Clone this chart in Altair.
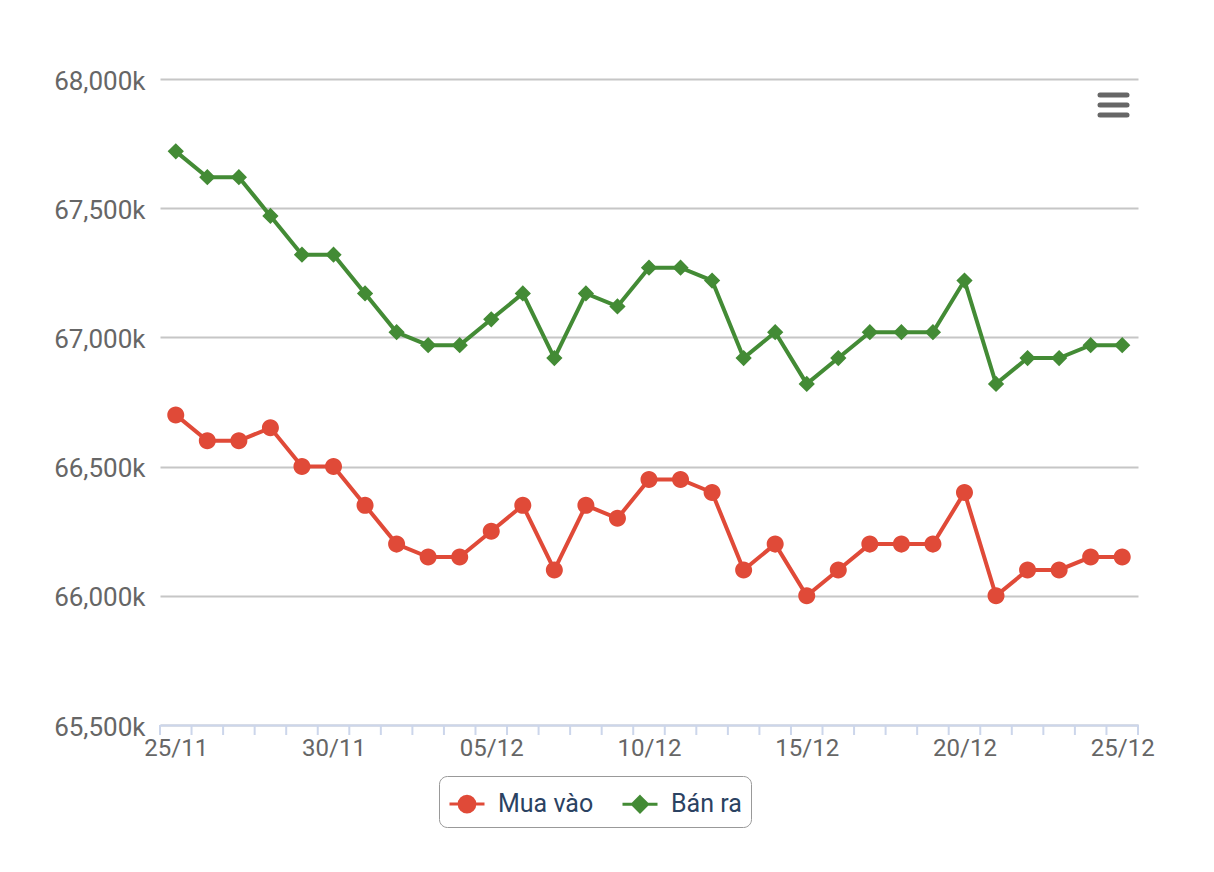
import altair as alt
import pandas as pd

dates = ["25/11", "26/11", "27/11", "28/11", "29/11", "30/11", "01/12", "02/12",
         "03/12", "04/12", "05/12", "06/12", "07/12", "08/12", "09/12", "10/12",
         "11/12", "12/12", "13/12", "14/12", "15/12", "16/12", "17/12", "18/12",
         "19/12", "20/12", "21/12", "22/12", "23/12", "24/12", "25/12"]

mua_vao = [66700, 66600, 66600, 66650, 66500, 66500, 66350, 66200, 66150, 66150,
           66250, 66350, 66100, 66350, 66300, 66450, 66450, 66400, 66100, 66200,
           66000, 66100, 66200, 66200, 66200, 66400, 66000, 66100, 66100, 66150,
           66150]

ban_ra = [67720, 67620, 67620, 67470, 67320, 67320, 67170, 67020, 66970, 66970,
          67070, 67170, 66920, 67170, 67120, 67270, 67270, 67220, 66920, 67020,
          66820, 66920, 67020, 67020, 67020, 67220, 66820, 66920, 66920, 66970,
          66970]

series_names = ["Mua vào", "Bán ra"]
series_colors = ["#e04a38", "#438b35"]
y_ticks = [65500, 66000, 66500, 67000, 67500, 68000]
x_label_idx = [0, 5, 10, 15, 20, 25, 30]

rows = []
for i, d in enumerate(dates):
    rows.append({"idx": i, "date": d, "series": series_names[0], "value": mua_vao[i]})
    rows.append({"idx": i, "date": d, "series": series_names[1], "value": ban_ra[i]})
df = pd.DataFrame(rows)

bounds = pd.DataFrame({"b": [i - 0.5 for i in range(len(dates) + 1)]})

W, H = 978, 646

label_js = "[" + ",".join("'" + d + "'" for d in dates) + "]"

xscale = alt.Scale(domain=[-0.5, len(dates) - 0.5], nice=False, zero=False)
yscale = alt.Scale(domain=[65500, 68000], nice=False, zero=False)
cscale = alt.Scale(domain=series_names, range=series_colors)

circle_path = "M-1,0L1,0M-0.45,0A0.45,0.45 0 1,0 0.45,0A0.45,0.45 0 1,0 -0.45,0Z"
diamond_path = "M-1,0L1,0M0,-0.43L0.43,0L0,0.43L-0.43,0Z"
sscale = alt.Scale(domain=series_names, range=[circle_path, diamond_path])

x_axis = alt.Axis(values=x_label_idx, labelExpr=label_js + "[datum.value]",
                  grid=False, domainColor="#ccd6eb", domainWidth=2,
                  ticks=True, tickOpacity=0, tickSize=10, labelPadding=1,
                  labelFontSize=24, labelColor="#666666", labelFont="Roboto",
                  labelFlush=False, labelOverlap=False, title=None)
y_axis = alt.Axis(values=y_ticks, labelExpr="format(datum.value, ',') + 'k'",
                  grid=True, gridColor="#c6c6c6", gridWidth=2, domain=False,
                  ticks=False, labelPadding=15, labelFontSize=26,
                  labelColor="#666666", labelFont="Roboto", labelOffset=2,
                  title=None)

legend = alt.Legend(orient="none", legendX=279, legendY=697, direction="horizontal",
                    title=None, strokeColor="#999999", cornerRadius=8, padding=9,
                    symbolSize=1225, symbolStrokeWidth=3, labelFontSize=25,
                    labelFont="Roboto", labelColor="#2b4262", labelOffset=12,
                    columnPadding=22, symbolOpacity=1)

base = alt.Chart(df)

lines = base.mark_line(strokeWidth=4).encode(
    x=alt.X("idx:Q", scale=xscale, axis=x_axis),
    y=alt.Y("value:Q", scale=yscale, axis=y_axis),
    stroke=alt.Stroke("series:N", scale=cscale, legend=legend),
    detail="series:N",
)

points = base.mark_point(filled=True, size=1430, strokeWidth=0, opacity=1).encode(
    x=alt.X("idx:Q", scale=xscale, axis=x_axis),
    y=alt.Y("value:Q", scale=yscale, axis=y_axis),
    fill=alt.Fill("series:N", scale=cscale, legend=legend),
    stroke=alt.Stroke("series:N", scale=cscale, legend=legend),
    shape=alt.Shape("series:N", scale=sscale, legend=legend),
)

tick_bounds = bounds.assign(y0=65500)
ticks = alt.Chart(tick_bounds).mark_rule(color="#ccd6eb", strokeWidth=2).encode(
    x=alt.X("b:Q", scale=xscale, axis=x_axis),
    y=alt.Y("y0:Q", scale=yscale, axis=y_axis),
    y2=alt.value(H + 10),
)

one = pd.DataFrame({"a": [0]})
menu = []
for yy in [16, 26, 36]:
    menu.append(alt.Chart(one).mark_rule(color="#666666", strokeWidth=5, strokeCap="round").encode(
        x=alt.value(940), x2=alt.value(967), y=alt.value(yy)))

chart = alt.layer(ticks, lines, points, *menu).properties(
    width=W, height=H,
    autosize=alt.AutoSizeParams(type="none"),
    padding={"left": 152, "top": 71, "right": 60, "bottom": 120},
).configure(font="Roboto").configure_view(stroke="transparent", strokeWidth=0)

chart.save("out.html", embed_options={"renderer": "svg", "actions": False})
